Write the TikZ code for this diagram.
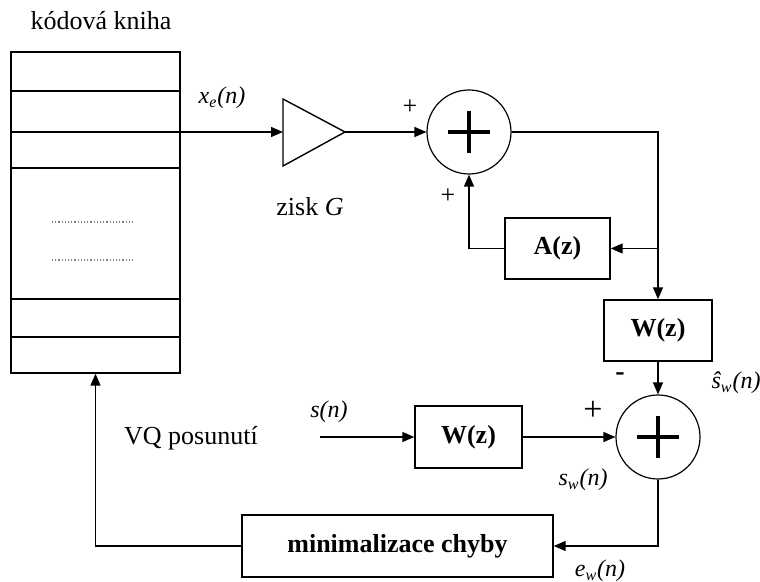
\documentclass[tikz,border=0pt]{standalone}
\usepackage{fontspec}
\setmainfont{Liberation Serif}
\usetikzlibrary{arrows.meta}
\begin{document}
\begin{tikzpicture}[x=0.5pt,y=-0.5pt,>={Triangle[length=6pt,width=5pt]},line width=0.7pt,
  blok/.style={draw,rectangle,inner sep=0pt,font=\fontsize{13}{15}\selectfont\bfseries},
  suma/.style={draw,circle,minimum size=42pt,inner sep=0pt,line width=0.6pt},
  popis/.style={font=\fontsize{13}{15}\selectfont,inner sep=0pt},
  znam/.style={font=\fontsize{12}{14}\selectfont\itshape,inner sep=0pt}]
  \useasboundingbox (0,0) rectangle (760,582);
  \node[draw,minimum width=84.5pt,minimum height=160.5pt,inner sep=0pt] (cb) at (95.5,212.5) {};
  \foreach \y in {91,132,168,299,337} \draw (11,\y) -- (180,\y);
  \draw[densely dotted,line width=0.6pt,gray] (52,222) -- (135,222);
  \draw[densely dotted,line width=0.6pt,gray] (52,260) -- (135,260);
  \coordinate (cbout) at (180,132);
  \coordinate (ampin) at (283,132);
  \coordinate (ampout) at (345,132);
  \draw (283,99) -- (ampout) -- (283,166) -- cycle;
  \node[suma] (s1) at (469,132) {};
  \node[suma] (s2) at (658,437) {};
  \foreach \s in {s1,s2} {
    \draw[line width=2pt] ([xshift=-10.5pt]\s.center) -- ([xshift=10.5pt]\s.center);
    \draw[line width=2pt] ([yshift=-10.5pt]\s.center) -- ([yshift=10.5pt]\s.center);
  }
  \node[blok,minimum width=52.5pt,minimum height=30.5pt] (az) at (557.5,248.5) {A(z)};
  \node[blok,minimum width=54pt,minimum height=30.5pt] (w1) at (658,330.5) {W(z)};
  \node[blok,minimum width=53.5pt,minimum height=31pt] (w2) at (468.5,437) {W(z)};
  \node[blok,minimum width=155.5pt,minimum height=31pt] (mb) at (397.5,546) {minimalizace chyby};
  \coordinate (r1) at (658,132);
  \coordinate (br) at (658,248.5);
  \coordinate (sin) at (320,437);
  \draw[->] (cbout) -- (ampin);
  \draw[->] (ampout) -- (s1.west);
  \draw[->] (s1.east) -- (r1) -- (w1.north);
  \draw[->] (br) -- (az.east);
  \draw[->] (az.west) -| (s1.south);
  \draw[->] (w1.south) -- (s2.north);
  \draw[->] (sin) -- (w2.west);
  \draw[->] (w2.east) -- (s2.west);
  \draw[->] (s2.south) |- (mb.east);
  \draw[->] (mb.west) -| (cb.south);
  \node[popis] at (101,21) {kódová kniha};
  \node[popis] at (310,207) {zisk \textit{G}};
  \node[popis] at (191,438) {VQ posunutí};
  \node[popis] at (410,107) {+};
  \node[popis] at (448,196) {+};
  \node[popis,font=\fontsize{17}{19}\selectfont] at (593,411) {+};
  \node[popis,font=\fontsize{14}{16}\selectfont\bfseries] at (620,377) {-};
  \node[znam] at (222,98) {x\textsubscript{e}(n)};
  \node[znam] at (329,412) {s(n)};
  \node[znam] at (583,480) {s\textsubscript{w}(n)};
  \node[znam] at (736,383) {\^s\textsubscript{w}(n)};
  \node[znam] at (600,571) {e\textsubscript{w}(n)};
\end{tikzpicture}
\end{document}
